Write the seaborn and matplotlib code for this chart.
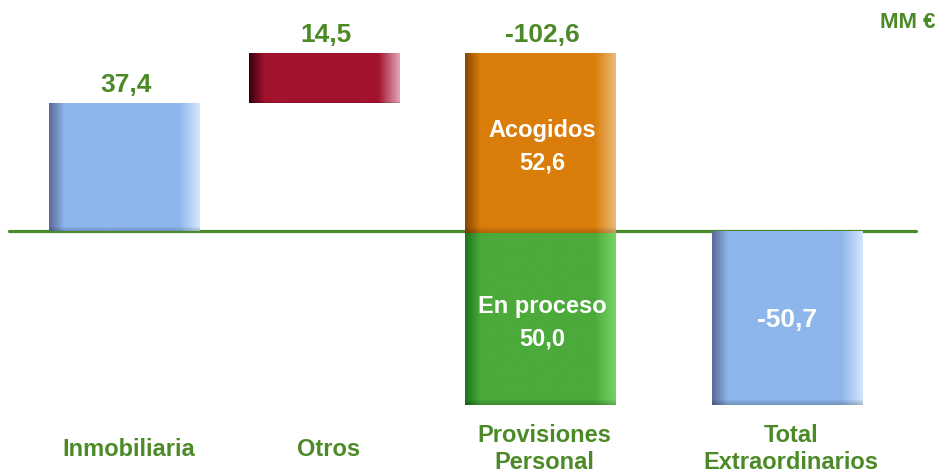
import numpy as np
import matplotlib
matplotlib.use("Agg")
import matplotlib.pyplot as plt
from matplotlib.colors import LinearSegmentedColormap, to_rgb
import seaborn as sns

# data
categories = ["Inmobiliaria", "Otros", "Provisiones\nPersonal", "Total\nExtraordinarios"]
totals = [37.4, 14.5, -102.6, -50.7]
total_labels = ["37,4", "14,5", "-102,6", "-50,7"]
provision_parts = ["Acogidos", "En proceso"]
provision_values = [-52.6, -50.0]
provision_labels = ["52,6", "50,0"]
unit_label = "MM €"

# layout in canvas pixels (938 x 475)
x_pos = [124.5, 324.5, 540.5, 787.0]
bar_w = 151
px_per_unit = 3.43
zero_px = 231
W, H = 938, 475

GREEN_TXT = "#4b8a26"

# (left edge, body, right edge) per bar style
styles = {
    "blue": ("#5b6c9a", "#8db6ec", "#d3e5fb"),
    "red": ("#3a0012", "#a3122e", "#e2a3b6"),
    "orange": ("#8a4700", "#da7d0a", "#ecb877"),
    "green": ("#1b761b", "#4caa3b", "#74d463"),
}
bar_styles = ["blue", "red", ["orange", "green"], "blue"]

sns.set_style("white")
plt.rcParams["font.family"] = ["Liberation Sans", "DejaVu Sans"]
plt.rcParams["font.weight"] = "bold"

fig = plt.figure(figsize=(W / 100, H / 100), dpi=100)
ax = fig.add_axes([0, 0, 1, 1])


def shade(patch, style):
    # horizontal gradient, darker strip at the bottom
    left, body, right = [np.array(to_rgb(c)) for c in styles[style]]
    cmap = LinearSegmentedColormap.from_list(
        "g", [(0, left), (0.1, body), (0.86, body), (1, right)])
    rgb = cmap(np.linspace(0, 1, 200))[:, :3]
    v = np.linspace(0, 1, 100)
    vf = np.where(v < 0.03, 0.82 + 6 * v, 1.0)
    img = rgb[None, :, :] * vf[:, None, None]
    x0, w = patch.get_x(), patch.get_width()
    y0 = min(patch.get_y(), patch.get_y() + patch.get_height())
    y1 = max(patch.get_y(), patch.get_y() + patch.get_height())
    im = ax.imshow(np.clip(img, 0, 1), extent=[x0, x0 + w, y0, y1],
                   origin="lower", aspect="auto", zorder=2.1)
    im.set_clip_path(patch)


running = 0.0
for i, (cat, val) in enumerate(zip(categories, totals)):
    if i == len(categories) - 1:
        parts = [(0.0, val, bar_styles[i])]
    elif isinstance(bar_styles[i], list):
        parts = []
        b = running
        for pv, st in zip(provision_values, bar_styles[i]):
            parts.append((b, pv, st))
            b += pv
        running += val
    else:
        parts = [(running, val, bar_styles[i])]
        running += val

    for bottom, h, st in parts:
        sns.barplot(x=[x_pos[i]], y=[h], native_scale=True, orient="x",
                    width=bar_w, bottom=bottom, color=styles[st][1],
                    saturation=1, errorbar=None, linewidth=0, ax=ax)
        p = ax.patches[-1]
        p.set_zorder(2)
        shade(p, st)

    if i < len(categories) - 1:
        top = max(max(b, b + h) for b, h, _ in parts)
        ax.annotate(total_labels[i], (x_pos[i] + 2, top), xytext=(0, 4),
                    textcoords="offset points", ha="center", va="bottom",
                    fontsize=19, color=GREEN_TXT, fontweight="bold")
    else:
        ax.text(x_pos[i], val / 2 - 0.5, total_labels[i], ha="center", va="center",
                fontsize=19, color="white", fontweight="bold", zorder=5)

    if isinstance(bar_styles[i], list):
        for (bottom, h, st), name, lab in zip(parts, provision_parts, provision_labels):
            ax.text(x_pos[i] + 2, bottom + h / 2 - 1.0, f"{name}\n{lab}", ha="center",
                    va="center", fontsize=17, color="white", fontweight="bold",
                    linespacing=1.55, zorder=5)

    ax.text(x_pos[i] + 4, 1 - 449 / H, cat, transform=ax.get_xaxis_transform(),
            ha="center", va="center", fontsize=17, color=GREEN_TXT,
            fontweight="bold", linespacing=1.25, multialignment="center")

ax.axhline(0, xmin=9 / W, xmax=916 / W, color="#4a8a2a", lw=2.3, zorder=1.5)
ax.text(935 / W, 1 - 22 / H, unit_label, transform=ax.transAxes, ha="right",
        va="center", fontsize=16, color=GREEN_TXT, fontweight="bold")

ax.set_xlim(0, W)
ax.set_ylim(-(H - zero_px) / px_per_unit, zero_px / px_per_unit)
ax.axis("off")

fig.savefig("out.png", dpi=100)
